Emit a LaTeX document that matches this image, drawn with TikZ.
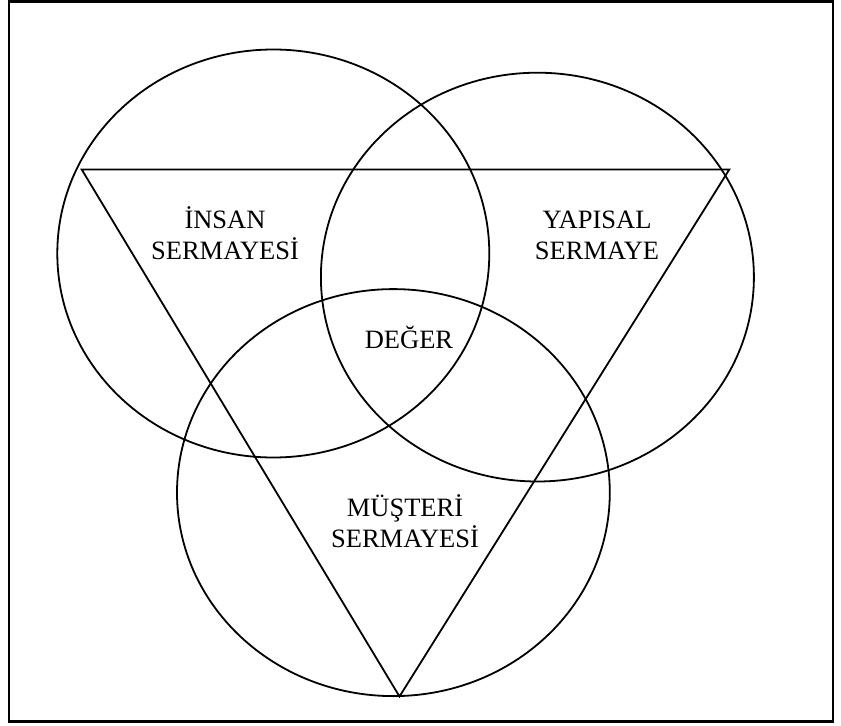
\documentclass[tikz,border=0pt]{standalone}
\usepackage{fontspec}
\setmainfont{Liberation Serif}
\begin{document}
\begin{tikzpicture}[x=1bp,y=-1bp,
  ring/.style={draw=black,line width=1.8bp},
  frame/.style={draw=black,line width=2.2bp},
  lbl/.style={font=\fontsize{26.5bp}{31bp}\selectfont,align=center,inner sep=0pt,anchor=base}]
\useasboundingbox (0,0) rectangle (841,726);
\draw[frame] (9,1.5) rectangle (833,721.5);
\draw[ring] (273.3,253.5) ellipse [x radius=216,y radius=204];
\draw[ring] (537.4,277.1) ellipse [x radius=216.5,y radius=204.4];
\draw[ring] (393.4,492.6) ellipse [x radius=216.4,y radius=203.5];
\coordinate (tl) at (81.7,169.5);
\coordinate (tr) at (729.3,169.5);
\coordinate (bt) at (399.5,696.5);
\draw[ring,line join=miter] (tl) -- (tr) -- (bt) -- cycle;
\node[lbl] (insan) at (225,259) {İNSAN\\SERMAYESİ};
\node[lbl] (yapisal) at (597,259) {YAPISAL\\SERMAYE};
\node[lbl] (deger) at (409,348) {DEĞER};
\node[lbl] (musteri) at (405,547) {MÜŞTERİ\\SERMAYESİ};
\end{tikzpicture}
\end{document}
